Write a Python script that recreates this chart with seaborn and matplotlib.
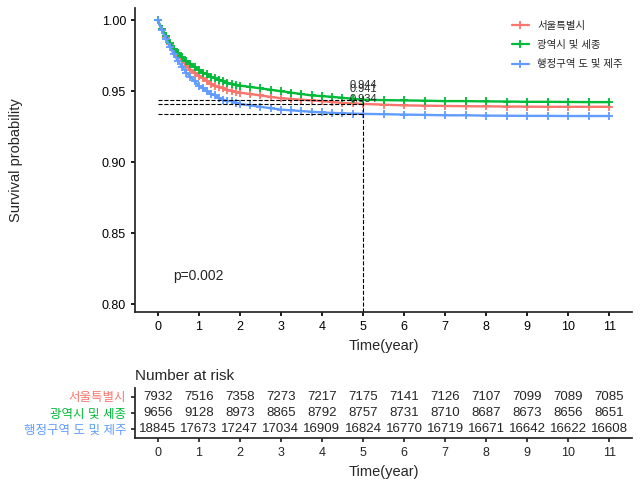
import numpy as np
import pandas as pd
import matplotlib
matplotlib.use("Agg")
import matplotlib.pyplot as plt
import seaborn as sns

# group names and colours (ggplot default hue)
groups = ["서울특별시", "광역시 및 세종", "행정구역 도 및 제주"]
colors = ["#F8766D", "#00BA38", "#619CFF"]

# survival curve
times = [0.0, 0.1, 0.2, 0.3, 0.4, 0.5, 0.6, 0.7, 0.8, 0.9, 1.0,
         1.1, 1.2, 1.3, 1.4, 1.5, 1.6, 1.7, 1.8, 1.9, 2.0,
         2.25, 2.5, 2.75, 3.0, 3.25, 3.5, 3.75, 4.0, 4.25, 4.5, 4.75, 5.0,
         5.5, 6.0, 6.5, 7.0, 7.5, 8.0, 8.5, 9.0, 9.5, 10.0, 10.5, 11.0]
surv_seoul = [1.000, 0.994, 0.988, 0.983, 0.979, 0.975, 0.971, 0.968, 0.965, 0.963, 0.961,
              0.959, 0.957, 0.955, 0.954, 0.953, 0.952, 0.951, 0.950, 0.9495, 0.949,
              0.948, 0.947, 0.946, 0.945, 0.9445, 0.944, 0.9435, 0.943, 0.9423, 0.9418, 0.9414, 0.941,
              0.9405, 0.940, 0.9398, 0.9396, 0.9394, 0.9393, 0.9392, 0.9391, 0.939, 0.939, 0.939, 0.939]
surv_metro = [1.000, 0.994, 0.989, 0.984, 0.980, 0.977, 0.974, 0.971, 0.969, 0.967, 0.965,
              0.963, 0.962, 0.960, 0.959, 0.958, 0.957, 0.956, 0.955, 0.9545, 0.954,
              0.953, 0.952, 0.951, 0.950, 0.949, 0.948, 0.947, 0.9465, 0.946, 0.9453, 0.9447, 0.944,
              0.9437, 0.9435, 0.9433, 0.943, 0.943, 0.9428, 0.9427, 0.9425, 0.9425, 0.9424, 0.9423, 0.9423]
surv_prov = [1.000, 0.993, 0.987, 0.981, 0.976, 0.971, 0.967, 0.963, 0.960, 0.957, 0.954,
             0.952, 0.950, 0.948, 0.947, 0.945, 0.944, 0.943, 0.943, 0.942, 0.941,
             0.940, 0.939, 0.938, 0.937, 0.9365, 0.936, 0.9355, 0.935, 0.9347, 0.9344, 0.9342, 0.934,
             0.9338, 0.9335, 0.9333, 0.933, 0.933, 0.9328, 0.9327, 0.9326, 0.9326, 0.9325, 0.9325, 0.9325]

# 5-year survival labels
surv_5y = [0.941, 0.944, 0.934]
cut_time = 5

# number at risk table
risk_years = list(range(12))
risk_seoul = [7932, 7516, 7358, 7273, 7217, 7175, 7141, 7126, 7107, 7099, 7089, 7085]
risk_metro = [9656, 9128, 8973, 8865, 8792, 8757, 8731, 8710, 8687, 8673, 8656, 8651]
risk_prov = [18845, 17673, 17247, 17034, 16909, 16824, 16770, 16719, 16671, 16642, 16622, 16608]

sns.set_theme(style="ticks")
plt.rcParams["font.family"] = ["Liberation Sans", "Noto Sans CJK KR", "DejaVu Sans"]

df = pd.DataFrame({
    "time": times * 3,
    "surv": surv_seoul + surv_metro + surv_prov,
    "group": [groups[0]] * len(times) + [groups[1]] * len(times) + [groups[2]] * len(times),
})

fig = plt.figure(figsize=(6.4, 4.8), dpi=100)
ax = fig.add_axes([0.211, 0.35, 0.7765, 0.633])
ax_t = fig.add_axes([0.211, 0.0875, 0.7765, 0.1042])

sns.lineplot(data=df, x="time", y="surv", hue="group", hue_order=groups,
             palette=colors, estimator=None,
             marker="+", markersize=6, markeredgewidth=1.3, linewidth=1.7,
             legend=False, ax=ax)
# censor marks take the line colour
for ln in ax.lines:
    ln.set_markeredgecolor(ln.get_color())
    ln.set_linestyle("-")

xlim = (-0.55, 11.55)
ax.set_xlim(*xlim)
ax.set_ylim(0.7944, 1.0085)
ax.set_xticks(range(12))
ax.set_yticks([0.80, 0.85, 0.90, 0.95, 1.00])
ax.set_yticklabels(["0.80", "0.85", "0.90", "0.95", "1.00"])
ax.tick_params(labelsize=9, length=3, colors="black")
ax.set_xlabel("Time(year)", fontsize=10.5)
ax.set_ylabel("Survival probability", fontsize=10.5)
ax.yaxis.set_label_coords(-0.225, 0.5)
sns.despine(ax=ax)

# reference lines at 5 years
for s in surv_5y:
    ax.plot([0, cut_time], [s, s], ls="--", color="black", lw=0.8)
    ax.annotate(f"{s:.3f}", (cut_time, s), xytext=(0, 7), textcoords="offset points",
                ha="center", va="bottom", fontsize=8)
ax.plot([cut_time, cut_time], [0.7944, max(surv_5y)], ls="--", color="black", lw=0.8)

ax.text(1.0, 0.82, "p=0.002", ha="center", va="center", fontsize=10)

handles = [plt.Line2D([], [], color=c, lw=1.6, marker="+", markersize=6,
                      markeredgewidth=1.3) for c in colors]
ax.legend(handles, groups, loc="upper right", bbox_to_anchor=(1.0, 0.99), frameon=False,
          fontsize=7.5, handlelength=1.6, labelspacing=0.9)

# risk table
risk_rows = [risk_seoul, risk_metro, risk_prov]
for i, row in enumerate(risk_rows):
    for yr, n in zip(risk_years, row):
        ax_t.text(yr, i, str(n), ha="center", va="center", fontsize=9.5)
ax_t.set_xlim(*xlim)
ax_t.set_ylim(2.56, -0.56)
ax_t.set_xticks(range(12))
ax_t.set_yticks(range(3))
ax_t.set_yticklabels(groups)
for lab, c in zip(ax_t.get_yticklabels(), colors):
    lab.set_color(c)
ax_t.tick_params(labelsize=9, length=3)
ax_t.set_xlabel("Time(year)", fontsize=10.5)
ax_t.set_ylabel("")
ax_t.set_title("Number at risk", loc="left", fontsize=11, pad=6)
sns.despine(ax=ax_t)

fig.savefig("out.png", dpi=100)
